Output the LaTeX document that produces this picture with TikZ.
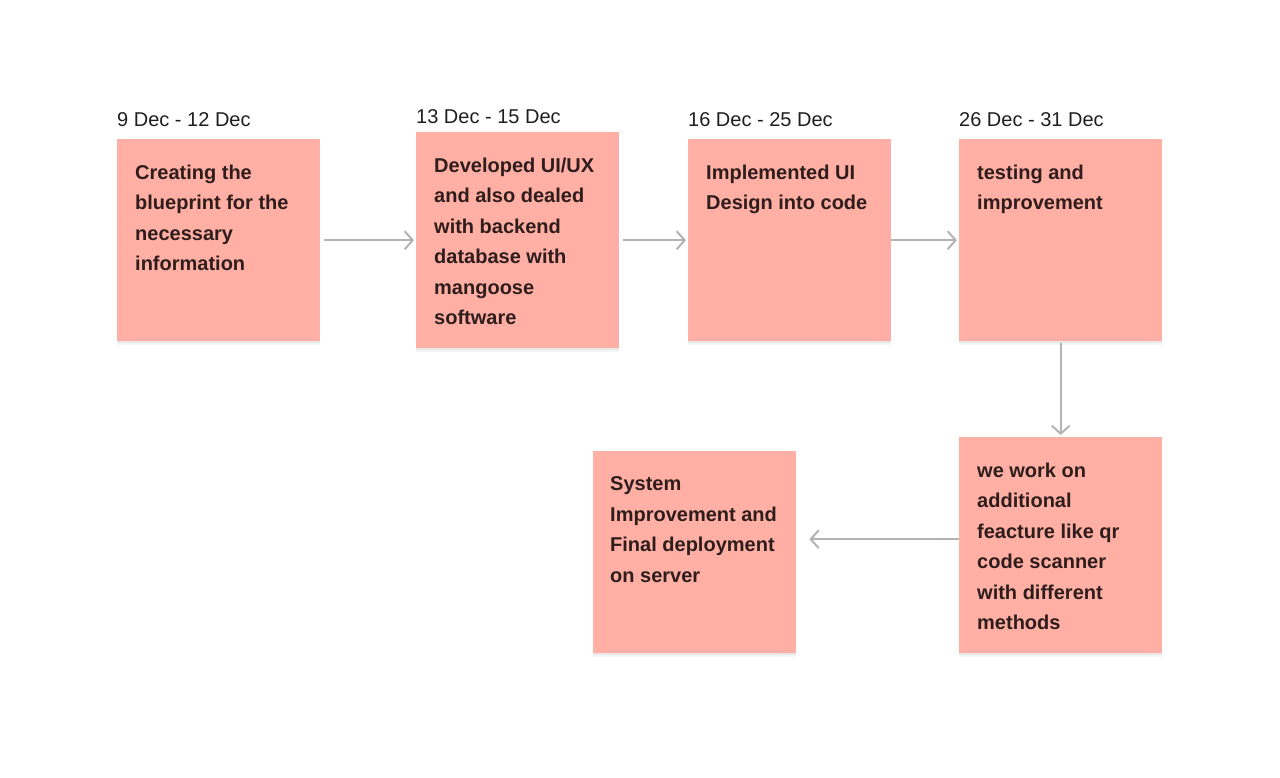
\documentclass[tikz,border=0pt]{standalone}
\usepackage{fontspec}
\setmainfont{Liberation Sans}
\usetikzlibrary{arrows.meta,shadows}
\definecolor{cardpink}{HTML}{FFAFA3}
\definecolor{cardtext}{HTML}{2E1D1C}
\definecolor{linkgray}{HTML}{B3B3B3}
\definecolor{datetext}{HTML}{1E1E1E}

\begin{document}
\begin{tikzpicture}[x=1pt,y=-1pt,
  card/.style={fill=cardpink, minimum width=203pt, minimum height=202pt, inner sep=0pt, anchor=north west,
    drop shadow={shadow xshift=0pt, shadow yshift=-4pt, opacity=0.04, fill=black},
    drop shadow={shadow xshift=0pt, shadow yshift=-2pt, opacity=0.06, fill=black}},
  note/.style={anchor=north west, align=left, inner sep=0pt, text=cardtext, font=\fontsize{20}{30.5}\selectfont\bfseries},
  datelabel/.style={anchor=base west, inner sep=0pt, text=datetext, font=\fontsize{20}{24}\selectfont},
  link/.style={draw=linkgray, line width=2pt, -{Straight Barb[length=8pt,width=18pt]}}]
\useasboundingbox (0,0) rectangle (1280,778);
% cards
\node[card] (b1) at (117,139) {};
\node[card, minimum height=216pt] (b2) at (416,132) {};
\node[card] (b3) at (688,139) {};
\node[card] (b4) at (959,139) {};
\node[card, minimum height=216pt] (b5) at (959,437) {};
\node[card] (b6) at (593,451) {};
% dates
\node[datelabel] (d1) at ([yshift=12pt]b1.north west) {9 Dec - 12 Dec};
\node[datelabel] (d2) at ([yshift=8pt]b2.north west) {13 Dec - 15 Dec};
\node[datelabel] (d3) at ([yshift=12pt]b3.north west) {16 Dec - 25 Dec};
\node[datelabel] (d4) at ([yshift=12pt]b4.north west) {26 Dec - 31 Dec};
% texts
\node[note] (t1) at ([xshift=18pt,yshift=-25.5pt]b1.north west) {Creating the\\blueprint for the\\necessary\\information};
\node[note] (t2) at ([xshift=18pt,yshift=-25.5pt]b2.north west) {Developed UI/UX\\and also dealed\\with backend\\database with\\mangoose\\software};
\node[note] (t3) at ([xshift=18pt,yshift=-25.5pt]b3.north west) {Implemented UI\\Design into code};
\node[note] (t4) at ([xshift=18pt,yshift=-25.5pt]b4.north west) {testing and\\improvement};
\node[note] (t5) at ([xshift=18pt,yshift=-25.5pt]b5.north west) {we work on\\additional\\feacture like qr\\code scanner\\with different\\methods};
\node[note] (t6) at ([xshift=17pt,yshift=-25.5pt]b6.north west) {System\\Improvement and\\Final deployment\\on server};
% arrows
\draw[link, shorten <=4pt, shorten >=2pt] (b1) -- (b2);
\draw[link, shorten <=4pt, shorten >=2pt] (b2) -- (b3);
\draw[link, shorten >=2pt] (b3) -- (b4);
\draw[link, shorten <=2pt, shorten >=2pt] (b4) -- (b5);
\draw[link, shorten >=13pt] ([yshift=6pt]b5.west) -- ([yshift=13pt]b6.east);
\end{tikzpicture}
\end{document}
